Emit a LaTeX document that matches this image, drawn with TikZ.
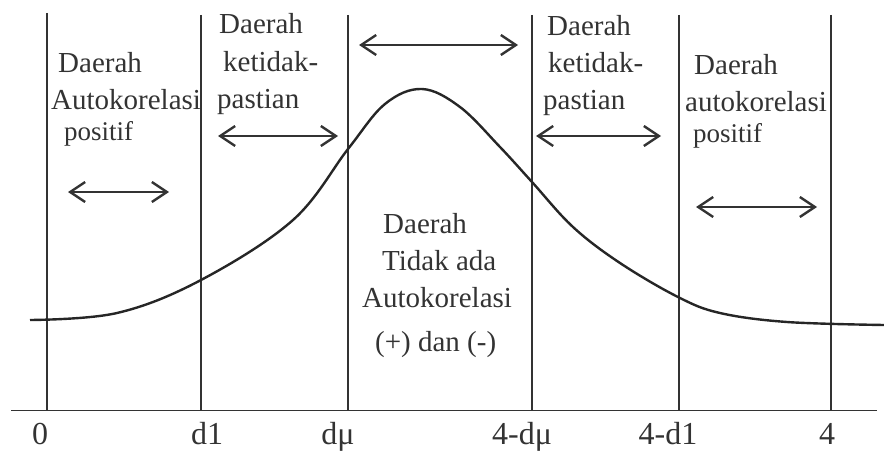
\documentclass[tikz,border=0pt]{standalone}
\usepackage{fontspec}
\setmainfont{Liberation Serif}
\usetikzlibrary{arrows.meta}
\definecolor{InkGray}{HTML}{333333}
\begin{document}
\begin{tikzpicture}[x=1pt,y=-1pt,
  region/.style={align=left,anchor=base west,inner sep=0pt,text=InkGray,font=\fontsize{29}{37}\selectfont},
  tick/.style={anchor=base,inner sep=0pt,text=InkGray,font=\fontsize{32}{36}\selectfont},
  bound/.style={draw=InkGray,line width=1.5pt},
  curve/.style={draw=black!85,line width=2.4pt},
  span/.style={{Straight Barb[length=15pt,width=20pt]}-{Straight Barb[length=15pt,width=20pt]},line width=2.4pt,draw=InkGray}]
\useasboundingbox (0,0) rectangle (884,452);
% batas daerah dan sumbu
\foreach \x/\top in {47/13,201/15,348/15,532/15,679/15,831/15}
  \draw[bound] (\x,\top) -- (\x,410);
\draw[bound,line width=1.8pt] (11,410.5) -- (877,410.5);
% kurva distribusi
\draw[curve] plot[smooth,tension=0.6] coordinates {(30,320) (117,313) (201,280) (293,220) (348,149) (385,104) (422,89) (460,107) (500,147) (532,182) (573,227) (620,263) (678,297) (720,313) (787,322) (884,325)};
% teks daerah (anchor pada baris terakhir)
\node[region] (posLeft) at (51,140) {\hspace{7pt}Daerah\\Autokorelasi\\[-6pt]\hspace{13pt}{\fontsize{27}{30}\selectfont positif}};
\node[region] (ragLeft) at (217,108) {\hspace{2pt}Daerah\\\hspace{6pt}ketidak-\\pastian};
\node[region] (noAuto) at (362,351) {\hspace{21pt}Daerah\\\hspace{20pt}Tidak ada\\Autokorelasi\\[7pt]\hspace{13pt}(+) dan (-)};
\node[region] (ragRight) at (543,110) {\hspace{4pt}Daerah\\\hspace{5pt}ketidak-\\pastian};
\node[region] (posRight) at (685,142) {\hspace{9pt}Daerah\\autokorelasi\\[-6pt]\hspace{8pt}{\fontsize{27}{30}\selectfont positif}};
% panah
\draw[span] (68,192) -- (169,192);
\draw[span] (218,136) -- (338,136);
\draw[span] (359,45) -- (518,45);
\draw[span] (536,136) -- (661,136);
\draw[span] (696,207) -- (817,207);
% label sumbu
\node[tick] (t0) at (40,444) {0};
\node[tick] (tdl) at (207,444) {d1};
\node[tick] (tdu) at (338,444) {dμ};
\node[tick] (tfdu) at (522,444) {4-dμ};
\node[tick] (tfdl) at (668,444) {4-d1};
\node[tick] (tf) at (827,444) {4};
\end{tikzpicture}
\end{document}
